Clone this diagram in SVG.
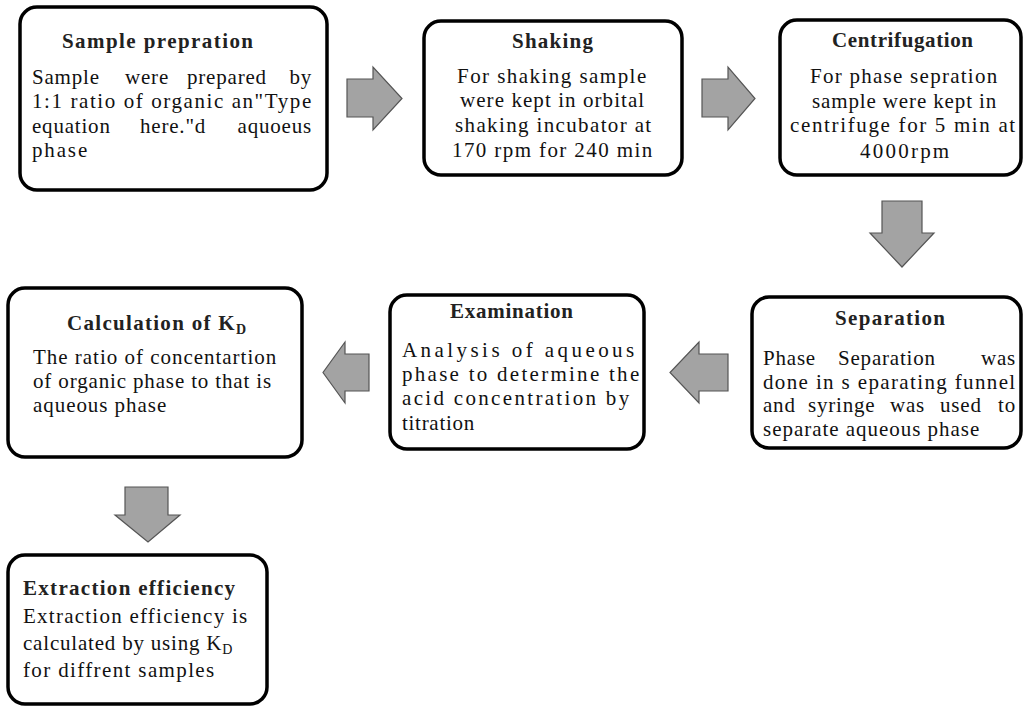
<svg xmlns="http://www.w3.org/2000/svg" width="1025" height="708" viewBox="0 0 1025 708">
<style>
.box{fill:#fff;stroke:#000;stroke-width:3.5}
.arr{fill:#a3a3a3;stroke:#555;stroke-width:1.2;stroke-linejoin:miter}
.t{font-family:"Liberation Serif","Times New Roman",serif;font-size:21px;font-weight:bold;fill:#222}
.b{font-family:"Liberation Serif","Times New Roman",serif;font-size:21px;letter-spacing:0.8px;fill:#111}
.sub{font-size:14px}
</style>
<rect width="1025" height="708" fill="#fff"/>
<g id="connectors">
<polygon class="arr" points="347,79 373,79 373,67 402,98.5 373,130 373,117 347,117"/>
<polygon class="arr" points="702,79 728,79 728,67 755,98.5 728,130 728,117 702,117"/>
<polygon class="arr" points="882,201 922,201 922,233 934,233 902,267 870,233 882,233"/>
<polygon class="arr" points="728,354 699,354 699,342 670,372.5 699,403 699,391 728,391"/>
<polygon class="arr" points="369,354 345,354 345,342 323,372.5 345,403 345,391 369,391"/>
<polygon class="arr" points="125,487 168,487 168,515 180,515 148,542 115,515 125,515"/>
</g>
<g id="sample-prepration">
<rect class="box" x="20" y="7" width="307" height="183" rx="17"/>
<text class="t" x="62" y="48" textLength="191" lengthAdjust="spacing">Sample prepration</text>
<text class="b" y="84"><tspan x="32">Sample</tspan><tspan x="125">were</tspan><tspan x="187">prepared</tspan><tspan x="289.5">by</tspan></text>
<text class="b" x="32" y="108" textLength="280" lengthAdjust="spacing">1:1 ratio of organic an"Type</text>
<text class="b" y="133"><tspan x="32">equation</tspan><tspan x="140">here."d</tspan><tspan x="237.6">aquoeus</tspan></text>
<text class="b" x="32" y="157" textLength="56" lengthAdjust="spacing">phase</text>
</g>
<g id="shaking">
<rect class="box" x="424" y="21" width="258" height="154" rx="17"/>
<text class="t" x="512" y="48" textLength="81" lengthAdjust="spacing">Shaking</text>
<text class="b" x="457" y="83" textLength="190" lengthAdjust="spacing">For shaking sample</text>
<text class="b" x="460" y="107" textLength="185" lengthAdjust="spacing">were kept in orbital</text>
<text class="b" x="455" y="132" textLength="197" lengthAdjust="spacing">shaking incubator at</text>
<text class="b" x="452" y="157" textLength="201" lengthAdjust="spacing">170 rpm for 240 min</text>
</g>
<g id="centrifugation">
<rect class="box" x="780" y="20" width="241" height="155" rx="17"/>
<text class="t" x="832" y="47" textLength="141" lengthAdjust="spacing">Centrifugation</text>
<text class="b" x="810" y="83" textLength="188" lengthAdjust="spacing">For phase sepration</text>
<text class="b" x="812" y="108" textLength="185" lengthAdjust="spacing">sample were kept in</text>
<text class="b" x="790" y="132" textLength="226" lengthAdjust="spacing">centrifuge for 5 min at</text>
<text class="b" x="860" y="158" textLength="90" lengthAdjust="spacing">4000rpm</text>
</g>
<g id="separation">
<rect class="box" x="752" y="297" width="269" height="151" rx="17"/>
<text class="t" x="835" y="325" textLength="110" lengthAdjust="spacing">Separation</text>
<text class="b" y="365"><tspan x="763">Phase</tspan><tspan x="838">Separation</tspan><tspan x="981">was</tspan></text>
<text class="b" x="763" y="389" textLength="253" lengthAdjust="spacing">done in s eparating funnel</text>
<text class="b" y="412"><tspan x="763">and</tspan><tspan x="808">syringe</tspan><tspan x="890">was</tspan><tspan x="940">used</tspan><tspan x="998">to</tspan></text>
<text class="b" x="763" y="436" textLength="217" lengthAdjust="spacing">separate aqueous phase</text>
</g>
<g id="examination">
<rect class="box" x="390" y="295" width="254" height="154" rx="17"/>
<text class="t" x="450" y="318" textLength="123" lengthAdjust="spacing">Examination</text>
<text class="b" x="402" y="357" textLength="233" lengthAdjust="spacing">Analysis of aqueous</text>
<text class="b" x="402" y="381" textLength="238" lengthAdjust="spacing">phase to determine the</text>
<text class="b" x="402" y="405" textLength="228" lengthAdjust="spacing">acid concentration by</text>
<text class="b" x="402" y="430" textLength="73" lengthAdjust="spacing">titration</text>
</g>
<g id="calculation">
<rect class="box" x="8" y="288" width="294" height="169" rx="17"/>
<text class="t" x="67" y="330" letter-spacing="1.3">Calculation of K<tspan class="sub" dy="4">D</tspan></text>
<text class="b" x="33" y="364" textLength="244" lengthAdjust="spacing">The ratio of concentartion</text>
<text class="b" x="33" y="388" textLength="239" lengthAdjust="spacing">of organic phase to that is</text>
<text class="b" x="33" y="412" textLength="134" lengthAdjust="spacing">aqueous phase</text>
</g>
<g id="extraction-efficiency">
<rect class="box" x="8" y="555" width="259" height="149" rx="17"/>
<text class="t" x="23" y="595" textLength="212" lengthAdjust="spacing">Extraction efficiency</text>
<text class="b" x="23" y="623" textLength="225" lengthAdjust="spacing">Extraction efficiency is</text>
<text class="b" x="23" y="650" letter-spacing="1.2">calculated by using K<tspan class="sub" dy="4">D</tspan></text>
<text class="b" x="23" y="677" textLength="192" lengthAdjust="spacing">for diffrent samples</text>
</g>
</svg>
